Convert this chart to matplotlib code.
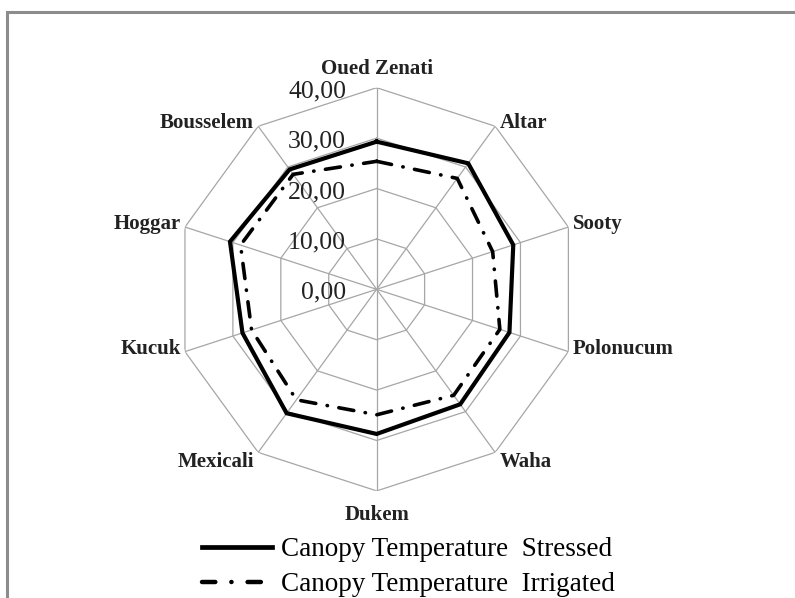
import numpy as np
import matplotlib
matplotlib.use("Agg")
import matplotlib.pyplot as plt
from matplotlib.patches import Rectangle
from matplotlib.lines import Line2D

# cultivars, clockwise from the top
cultivars = ["Oued Zenati", "Altar", "Sooty", "Polonucum", "Waha",
             "Dukem", "Mexicali", "Kucuk", "Hoggar", "Bousselem"]
stressed = [29.3, 30.9, 28.5, 27.7, 28.2, 28.7, 30.4, 28.0, 30.6, 29.4]
irrigated = [25.4, 27.2, 24.2, 25.7, 26.0, 24.9, 27.1, 26.1, 28.4, 28.2]
rings = [0, 10, 20, 30, 40]
ring_labels = ["0,00", "10,00", "20,00", "30,00", "40,00"]
series_names = ["Canopy Temperature  Stressed", "Canopy Temperature  Irrigated"]

plt.rcParams["font.family"] = ["Liberation Serif", "DejaVu Serif"]

fig = plt.figure(figsize=(7.95, 5.98), dpi=100)
fig.patch.set_facecolor("white")

# grey frame line on top and left (the picture is cropped right/bottom)
fig.patches.append(Rectangle((7 / 795, -0.1), 1.2, (598 - 12) / 598 + 0.1,
                             transform=fig.transFigure, fill=False,
                             edgecolor="#8c8c8c", linewidth=2.2))

ax = fig.add_axes([0.2202, 0.1791, 0.5072, 0.6742], projection="polar")
ax.set_theta_zero_location("N")
ax.set_theta_direction(-1)
ax.set_ylim(0, 40)
ax.grid(False)
ax.spines["polar"].set_visible(False)
ax.set_xticks([])
ax.set_yticks([])
ax.patch.set_alpha(0)

n = len(cultivars)
angles = np.linspace(0, 2 * np.pi, n, endpoint=False)
closed = np.append(angles, angles[0])

# polygon grid
for r in rings[1:]:
    ax.plot(closed, [r] * (n + 1), color="#a6a6a6", lw=0.9, zorder=1)
for a in angles:
    ax.plot([a, a], [0, rings[-1]], color="#a6a6a6", lw=0.9, zorder=1)

# value labels left of the vertical spoke
for r, lab in zip(rings, ring_labels):
    ax.annotate(lab, xy=(0, r), xytext=(-22, -2.6), textcoords="offset points",
                ha="right", va="center", fontsize=18.5, color="#222222")

dashdot = (0, (4.2, 3.2, 0.1, 3.2))
ax.plot(closed, stressed + stressed[:1], color="black", lw=3.0,
        solid_joinstyle="miter", zorder=3)
ax.plot(closed, irrigated + irrigated[:1], color="black", lw=2.6,
        linestyle=dashdot, dash_capstyle="round", zorder=3)

# category labels
for a, name in zip(angles, cultivars):
    s, c = np.sin(a), np.cos(a)
    if abs(s) < 0.1:
        ha = "center"
    elif s > 0:
        ha = "left"
    else:
        ha = "right"
    if c > 0.9:
        va, off = "bottom", (0, 6)
    elif c < -0.9:
        va, off = "top", (0, -10)
    elif c < -0.5:
        va, off = "center", (3 * np.sign(s), -7)
    else:
        va, off = "center", (3 * np.sign(s), 2)
    ax.annotate(name, xy=(a, rings[-1]), xytext=off, textcoords="offset points",
                ha=ha, va=va, fontsize=15, fontweight="bold", color="#222222")

# legend handles drawn a bit heavier, like the original
handles = [
    Line2D([], [], color="black", lw=3.4),
    Line2D([], [], color="black", lw=3.2, linestyle=(0, (3.0, 3.6, 0.05, 3.6)),
           dash_capstyle="round"),
]
fig.legend(handles, series_names, loc="upper left",
           bbox_to_anchor=(202 / 795, 1 - 537 / 598),
           frameon=False, fontsize=19.5, handlelength=2.6, handletextpad=0.3,
           labelspacing=0.37, borderpad=0, borderaxespad=0)

fig.savefig("out.png", dpi=100, facecolor="white")
